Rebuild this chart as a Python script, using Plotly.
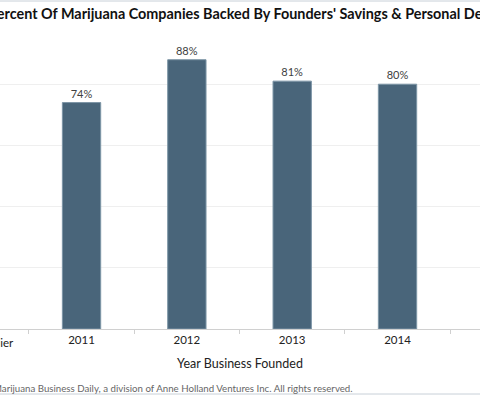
import plotly.graph_objects as go

categories = ["2010 or Earlier", "2011", "2012", "2013", "2014"]
values = [None, 74, 88, 81, 80]
labels = ["" if v is None else f"{v}%" for v in values]
title = "Percent Of Marijuana Companies Backed By Founders' Savings & Personal Debt"
x_title = "Year Business Founded"
source = "Source: Marijuana Business Daily, a division of Anne Holland Ventures Inc. All rights reserved."

FONT = "Lato, 'Open Sans', sans-serif"

fig = go.Figure(go.Bar(
    x=categories, y=values, text=labels, textposition="outside",
    textfont=dict(family=FONT, size=11, color="#404040"),
    marker=dict(color="#49657a", line=dict(color="#7d95a6", width=1)),
    width=0.364, cliponaxis=False, hoverinfo="skip",
))

fig.update_layout(
    width=480, height=396,
    margin=dict(l=0, r=0, t=23, b=67),
    paper_bgcolor="white", plot_bgcolor="white",
    showlegend=False,
    title=dict(text="<b>" + title + "</b>", x=242/480, xanchor="center", y=1 - 14/396, yanchor="middle",
               font=dict(family=FONT, size=14.4, color="#111111")),
    xaxis=dict(type="category", range=[0.226, 4.783], tickson="boundaries",
               ticks="outside", ticklen=4, tickcolor="#d0d0d0",
               showline=True, linecolor="#d0d0d0", linewidth=1, showgrid=False,
               tickfont=dict(family=FONT, size=11.5, color="#222222"),
               title=dict(text=x_title, font=dict(family=FONT, size=12.5, color="#222222"), standoff=14)),
    yaxis=dict(range=[0, 100], tickvals=[0, 20, 40, 60, 80], showticklabels=False,
               showgrid=True, gridcolor="#efefef", gridwidth=1, zeroline=False),
    annotations=[
        dict(text=categories[0], xref="paper", yref="paper", x=-24/480, y=0, yshift=-5,
             xanchor="center", yanchor="top", showarrow=False,
             font=dict(family=FONT, size=11.5, color="#222222")),
        dict(text=source, xref="paper", yref="paper", x=355/480, y=0, yshift=-51,
             xanchor="right", yanchor="top", showarrow=False,
             font=dict(family=FONT, size=9.7, color="#666666")),
    ],
    shapes=[
        dict(type="line", xref="paper", yref="paper", x0=-0.01, x1=1.01, y0=1 + 22/306, y1=1 + 22/306,
             line=dict(color="#c8d0d8", width=1)),
        dict(type="line", xref="paper", yref="paper", x0=-0.01, x1=1.01, y0=-65/306, y1=-65/306,
             line=dict(color="#c8d0d8", width=1)),
    ],
)

fig.write_html("out.html", config={"displayModeBar": False},
               post_script="document.body.style.margin='0';document.body.style.overflow='hidden';")
